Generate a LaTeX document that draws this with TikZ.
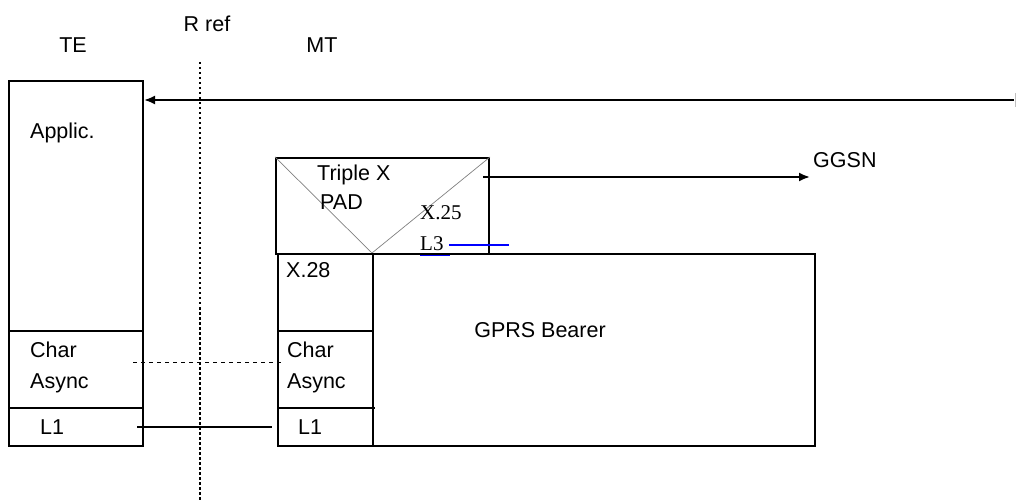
\documentclass[tikz,border=0pt]{standalone}
\usepackage{fontspec}
\setmainfont{Liberation Sans}
\newfontfamily\serifx{Liberation Serif}
\usetikzlibrary{arrows.meta}
\begin{document}
\begin{tikzpicture}[x=1pt,y=-1pt,
  box/.style={draw, line width=2pt, inner sep=0pt, anchor=north west},
  sep/.style={line width=2pt},
  lbl/.style={font=\fontsize{21.5}{31}\selectfont, inner sep=0pt, anchor=west, align=left},
  ser/.style={font=\serifx\fontsize{21}{22}\selectfont, inner sep=0pt, anchor=west},
  conn/.style={line width=2pt},
  arr/.style={line width=2pt, -{Latex[length=11pt,width=9pt]}}]
\useasboundingbox (0,0) rectangle (1016,502);
% headings
\node[lbl, anchor=center] (hte) at (73,45) {TE};
\node[lbl, anchor=center] (href) at (207,24) {R ref};
\node[lbl, anchor=center] (hmt) at (322,45) {MT};
% TE stack
\node[box, minimum width=134pt, minimum height=365pt] (te) at (8,80) {};
\draw[sep] (8,331) -- (142,331);
\draw[sep] (8,408) -- (142,408);
\node[lbl] (applic) at (30,133) {Applic.};
\node[lbl] (tchar) at (30,367) {Char\\Async};
\node[lbl] (tl1) at (40,427) {L1};
% Triple X PAD
\node[box, minimum width=213pt, minimum height=96pt] (pad) at (275,157) {};
\draw[gray, line width=0.7pt] (pad.north west) -- (372,253) -- (pad.north east);
\node[lbl] (triple) at (317,175) {Triple X};
\node[lbl] (padt) at (320,202) {PAD};
\node[ser] (x25) at (420,213) {X.25};
\node[ser] (l3) at (420,244) {L3};
\draw[blue, line width=1.5pt] (420,255) -- (450,255);
\draw[blue, line width=1.5pt] (449,245) -- (509,245);
% MT column
\node[box, minimum width=95pt, minimum height=192pt] (mt) at (277,253) {};
\draw[sep] (277,331) -- (372,331);
\draw[sep] (279,408) -- (375,408);
\node[lbl] (x28) at (286,270) {X.28};
\node[lbl] (mchar) at (287,367) {Char\\Async};
\node[lbl] (ml1) at (298,427) {L1};
% GPRS bearer
\node[box, minimum width=442pt, minimum height=192pt] (gprs) at (372,253) {};
\node[lbl, anchor=center] (gprst) at (540,330) {GPRS Bearer};
% R reference line
\coordinate (rtop) at (200,62);
\coordinate (rbot) at (200,502);
\draw[line width=2pt, dash pattern=on 2.5pt off 2.5pt] (rtop) -- (rbot);
% top arrow to TE
\coordinate (topr) at (1014,100);
\draw[arr] (topr) -- (te.east |- topr);
\draw[gray!50, line width=0.8pt] (1015,93) -- (1015,107);
% GGSN arrow
\node[lbl] (ggsn) at (813,160) {GGSN};
\coordinate (gs) at (483,177);
\coordinate (ge) at (810,177);
\draw[arr] (gs) -- (ge);
% char async peer (dashed) and L1 link
\coordinate (da) at (133,362);
\coordinate (db) at (283,362);
\draw[line width=0.9pt, dash pattern=on 4pt off 4pt] (da) -- (db);
\coordinate (la) at (137,427);
\coordinate (lb) at (272,427);
\draw[conn] (la) -- (lb);
\end{tikzpicture}
\end{document}
